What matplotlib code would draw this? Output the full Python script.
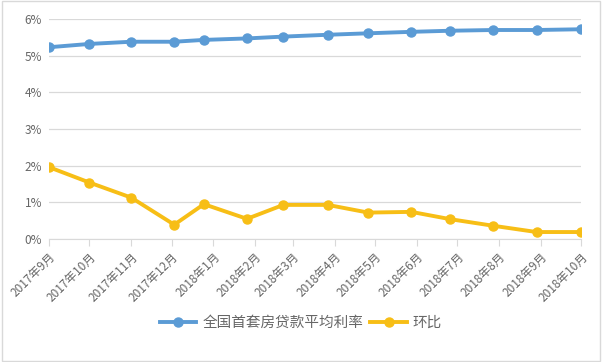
import pandas as pd
import matplotlib.pyplot as plt
import matplotlib.dates as mdates
from matplotlib.patches import Rectangle
from matplotlib.ticker import FuncFormatter

plt.rcParams['font.family'] = ['Noto Sans CJK SC', 'DejaVu Sans']

# dates des points (axe date, points pas tous au 1er du mois)
dates = ["2017-09-01", "2017-10-01", "2017-11-01", "2017-12-03", "2017-12-25",
         "2018-01-26", "2018-02-22", "2018-03-27", "2018-04-26", "2018-05-28",
         "2018-06-26", "2018-07-28", "2018-08-29", "2018-10-01"]
taux = [5.23, 5.32, 5.38, 5.38, 5.43, 5.47, 5.52, 5.57, 5.61, 5.65, 5.68, 5.70, 5.70, 5.72]
huanbi = [1.96, 1.54, 1.13, 0.39, 0.95, 0.55, 0.93, 0.93, 0.72, 0.74, 0.54, 0.36, 0.19, 0.19]

x = pd.to_datetime(dates)

fig = plt.figure(figsize=(6.02, 3.62), dpi=100)
ax = fig.add_axes([49/602, 1 - 239/362, 532/602, 220/362])

ax.plot(x, taux, color='#5B9BD5', lw=2.8, marker='o', ms=6.5, label='全国首套房贷款平均利率')
ax.plot(x, huanbi, color='#F7BE16', lw=2.8, marker='o', ms=6.5, label='环比')

ax.set_ylim(0, 6)
ax.set_yticks(range(0, 7))
ax.yaxis.set_major_formatter(FuncFormatter(lambda v, p: f"{int(v)}%"))
ax.set_xlim(pd.Timestamp("2017-09-01"), pd.Timestamp("2018-10-01"))
ax.xaxis.set_major_locator(mdates.MonthLocator())
ax.xaxis.set_major_formatter(FuncFormatter(
    lambda v, p: f"{mdates.num2date(v).year}年{mdates.num2date(v).month}月"))

ax.grid(axis='y', color='#d9d9d9', lw=0.9)
ax.set_axisbelow(True)
for s in ['top', 'right', 'left']:
    ax.spines[s].set_visible(False)
ax.spines['bottom'].set_color('#d9d9d9')
ax.tick_params(axis='y', length=0, labelsize=8.5, labelcolor='#666666', pad=5)
ax.tick_params(axis='x', length=5, color='#d9d9d9', labelsize=8.5, labelcolor='#666666', pad=3)
plt.setp(ax.get_xticklabels(), rotation=45, ha='right', rotation_mode='anchor')

fig.legend(loc='center', bbox_to_anchor=(0.5, 1 - 323/362), ncol=2, frameon=False,
           fontsize=10.5, handlelength=2.5, columnspacing=0.5, handletextpad=0.4,
           labelcolor='#666666')

# cadre autour du graphique
fig.patches.append(Rectangle((0.003, 0.004), 0.994, 0.992, transform=fig.transFigure,
                             fill=False, edgecolor='#d9d9d9', lw=1))

fig.savefig('out.png', dpi=100)
